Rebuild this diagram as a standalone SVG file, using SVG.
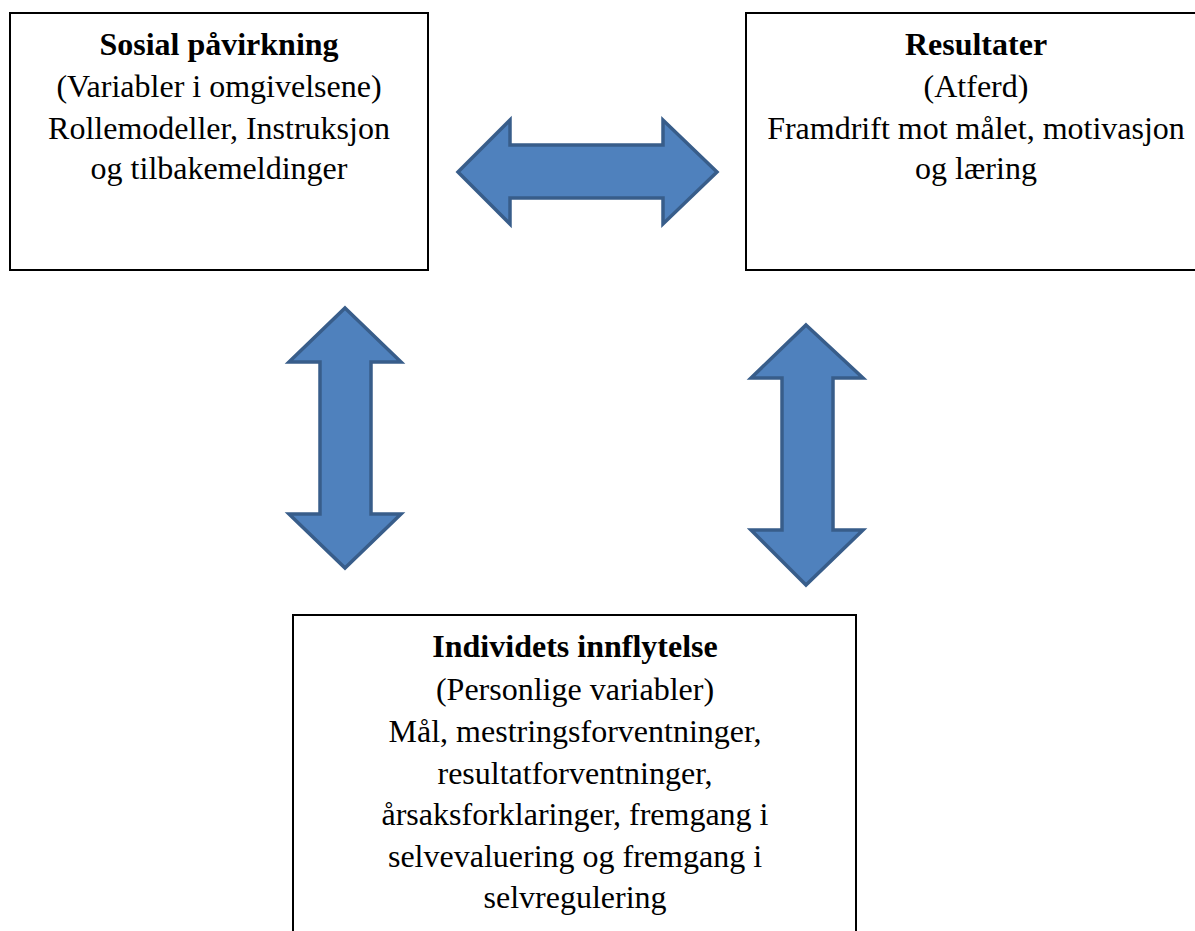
<svg xmlns="http://www.w3.org/2000/svg" width="1195" height="931" viewBox="0 0 1195 931">
<style>
.box{fill:#fff;stroke:#000;stroke-width:2}
.t{font-family:"Liberation Serif","Times New Roman",serif;font-size:32px;fill:#000;text-anchor:middle}
.b{font-weight:bold}
.arr{fill:#4f81bd;stroke:#385d8a;stroke-width:3.5;stroke-linejoin:miter}
</style>
<rect width="1195" height="931" fill="#fff"/>
<g id="connectors">
<polygon class="arr" points="458,172 510,120 510,145 663,145 663,120 717,172 663,224 663,198 510,198 510,224"/>
<polygon class="arr" points="345,308 401,362 371,362 371,514 401,514 345,568 289,514 320,514 320,362 289,362"/>
<polygon class="arr" points="806,325 863,378 833,378 833,530 863,530 806,585 751,530 782,530 782,378 751,378"/>
</g>
<g id="sosial">
<rect class="box" x="10" y="13" width="418" height="257"/>
<text class="t b" x="219" y="55">Sosial påvirkning</text>
<text class="t" x="219" y="97">(Variabler i omgivelsene)</text>
<text class="t" x="219" y="139">Rollemodeller, Instruksjon</text>
<text class="t" x="219" y="179">og tilbakemeldinger</text>
</g>
<g id="resultater">
<rect class="box" x="746" y="13" width="460" height="257"/>
<text class="t b" x="976" y="55">Resultater</text>
<text class="t" x="976" y="97">(Atferd)</text>
<text class="t" x="976" y="139">Framdrift mot målet, motivasjon</text>
<text class="t" x="976" y="179">og læring</text>
</g>
<g id="individ">
<rect class="box" x="293" y="615" width="563" height="330"/>
<text class="t b" x="575" y="657">Individets innflytelse</text>
<text class="t" x="575" y="700">(Personlige variabler)</text>
<text class="t" x="575" y="742">Mål, mestringsforventninger,</text>
<text class="t" x="575" y="784">resultatforventninger,</text>
<text class="t" x="575" y="825">årsaksforklaringer, fremgang i</text>
<text class="t" x="575" y="867">selvevaluering og fremgang i</text>
<text class="t" x="575" y="908">selvregulering</text>
</g>
</svg>
